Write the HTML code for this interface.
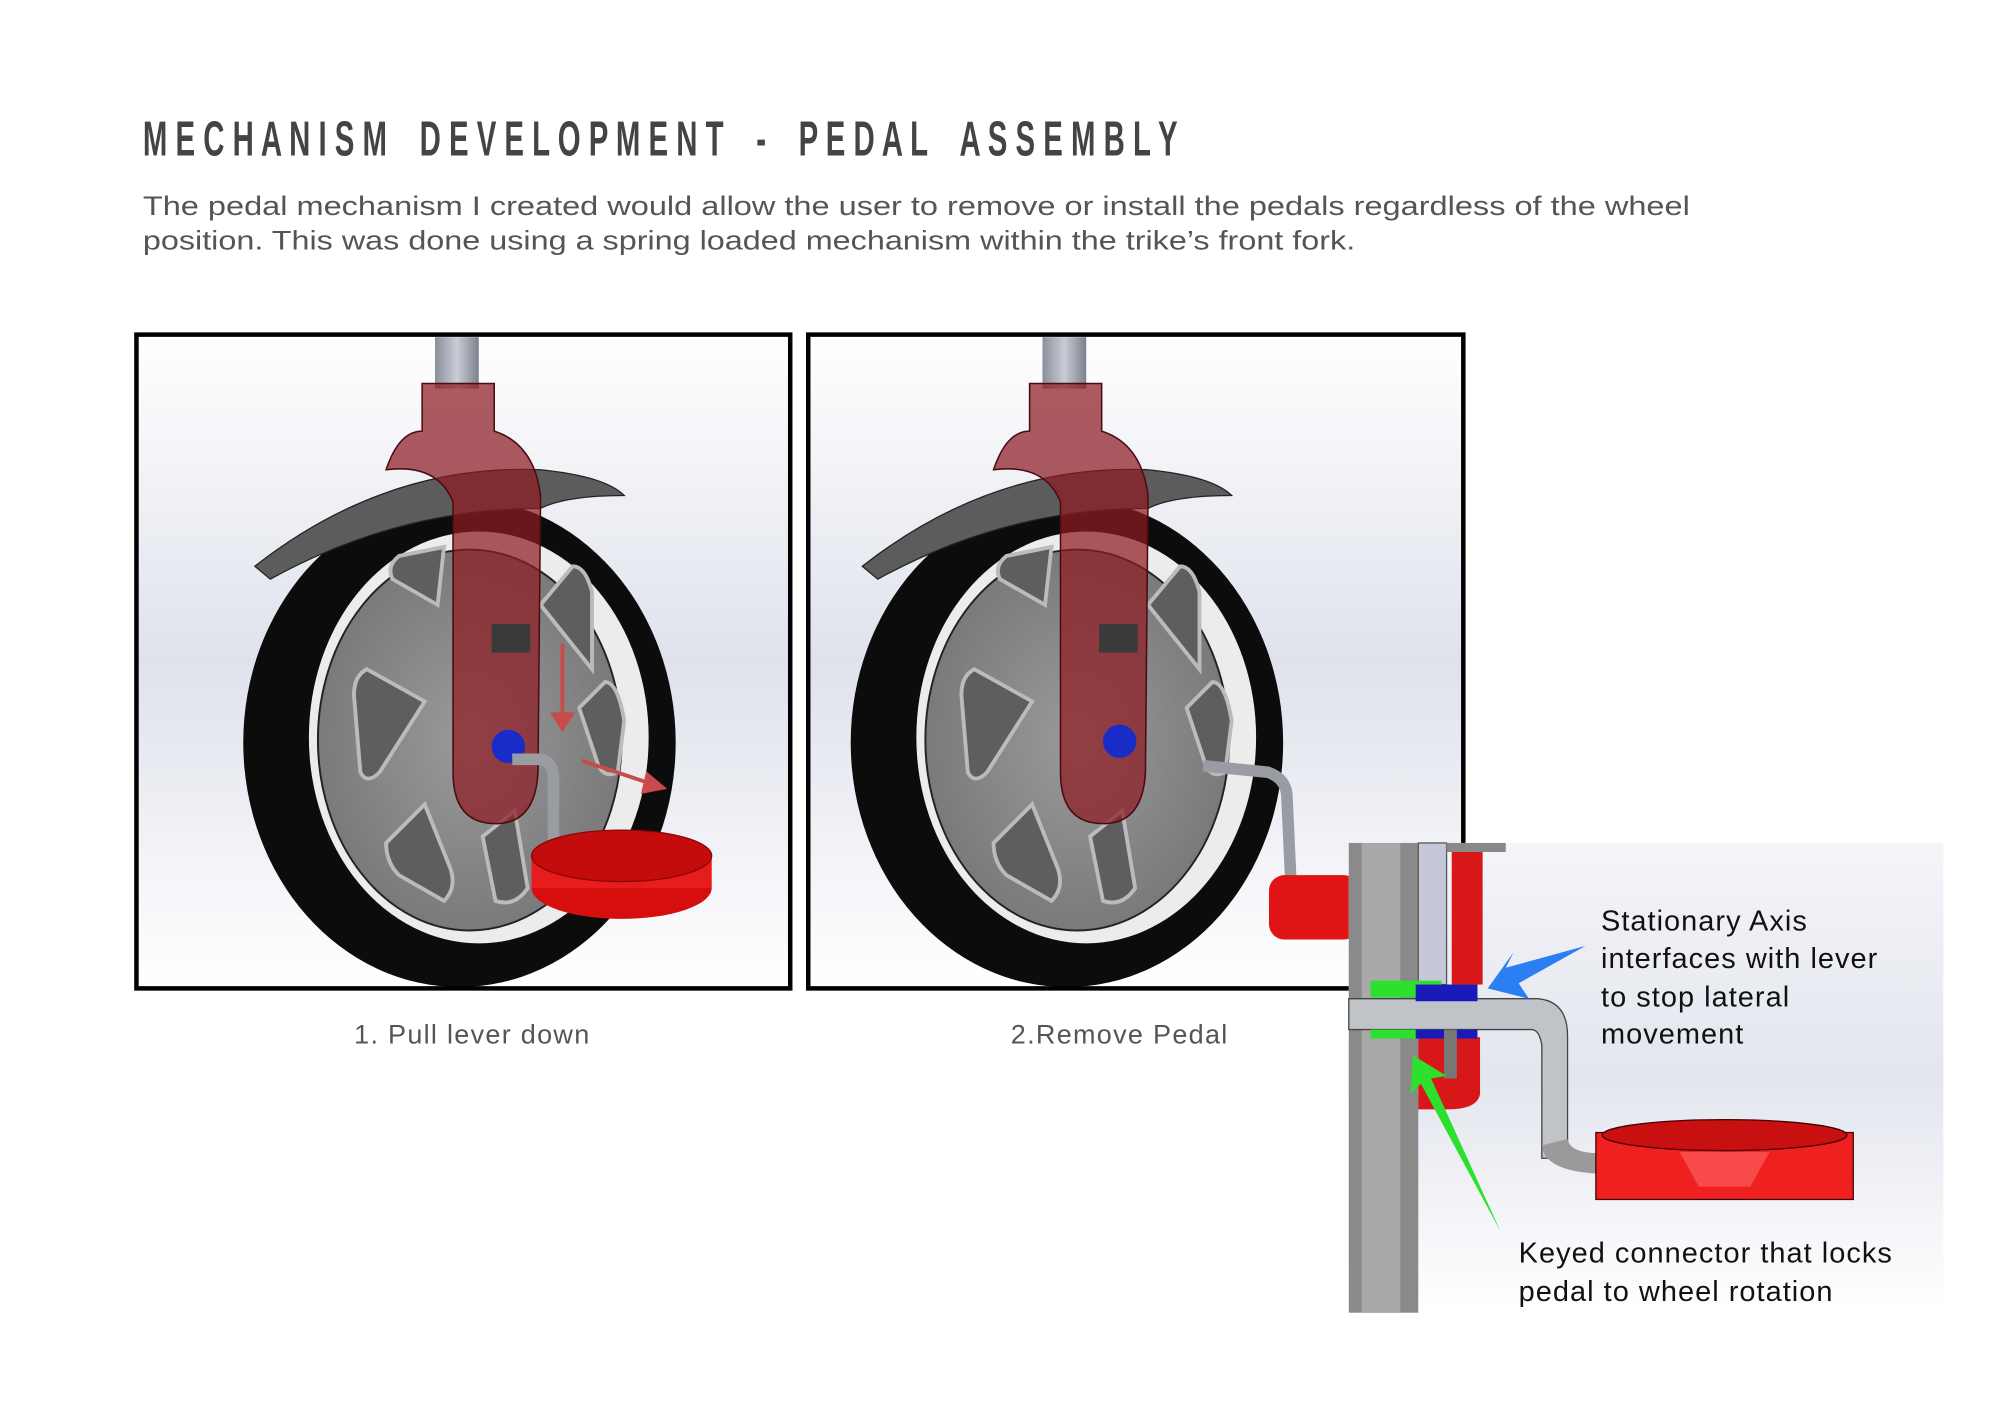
<!DOCTYPE html>
<html><head><meta charset="utf-8"><style>
html,body{margin:0;padding:0;background:#fff;}
svg{display:block;}
</style></head><body>
<svg width="2000" height="1414" viewBox="0 0 1554 1098.7" xmlns="http://www.w3.org/2000/svg">
<defs>
<linearGradient id="bg" x1="0" y1="0" x2="0" y2="1">
<stop offset="0" stop-color="#ffffff"/><stop offset="0.5" stop-color="#dfe2ec"/><stop offset="1" stop-color="#ffffff"/>
</linearGradient>
<linearGradient id="bg2" x1="0" y1="0" x2="0" y2="1">
<stop offset="0" stop-color="#f4f5f9"/><stop offset="0.5" stop-color="#e3e6ee"/><stop offset="1" stop-color="#ffffff"/>
</linearGradient>
<linearGradient id="tube" x1="0" y1="0" x2="1" y2="0">
<stop offset="0" stop-color="#8a8f9c"/><stop offset="0.5" stop-color="#c9ccd6"/><stop offset="1" stop-color="#7c808c"/>
</linearGradient>
<radialGradient id="hub" cx="0.5" cy="0.5" r="0.5">
<stop offset="0" stop-color="#9a9a9a"/><stop offset="1" stop-color="#7a7a7a"/>
</radialGradient>
<g id="wheel">
<ellipse cx="357" cy="577" rx="168" ry="190" fill="#0c0c0c"/>
<ellipse cx="372" cy="573" rx="132" ry="160" fill="#ececec"/>
<ellipse cx="365" cy="575" rx="118" ry="148" fill="url(#hub)" stroke="#222" stroke-width="1.5"/>
<g fill="#5e5e5e" stroke="#bbb" stroke-width="3">
<path d="M340 470 L305 450 Q300 440 310 432 L345 425 Z"/>
<path d="M420 470 L445 440 Q455 440 460 460 L460 520 Z"/>
<path d="M330 545 L285 520 Q275 525 275 540 L280 600 Q285 610 295 600 Z"/>
<path d="M450 550 L470 530 Q480 530 485 560 L480 600 Q470 605 465 595 Z"/>
<path d="M330 625 L300 655 Q300 670 310 680 L345 700 Q355 690 350 675 Z"/>
<path d="M400 630 L410 690 Q400 705 385 700 L375 650 Z"/>
</g>
<path d="M198 440 Q300 360 420 365 Q470 370 485 385 Q440 385 420 395 Q310 395 210 450 Z" fill="#5c5c5c" stroke="#222" stroke-width="1"/>
<rect x="338" y="262" width="34" height="40" fill="url(#tube)"/>
<path d="M328 298 L384 298 L384 335 Q415 345 420 385 L418 600 Q416 640 385 640 Q352 640 352 600 L352 390 Q340 360 300 365 Q310 335 328 335 Z" fill="#8e1c24" fill-opacity="0.72" stroke="#4a0c10" stroke-width="1.2"/>
<rect x="382" y="485" width="30" height="22" fill="#3a3a3a"/>
</g>
</defs>

<text x="111" y="121" font-family="Liberation Sans, sans-serif" font-weight="bold" font-size="38" fill="#444" textLength="804" lengthAdjust="spacingAndGlyphs">M E C H A N I S M&#160;&#160;&#160; D E V E L O P M E N T&#160;&#160;&#160; -&#160;&#160;&#160; P E D A L&#160;&#160;&#160; A S S E M B L Y</text>
<text x="111" y="167" font-family="Liberation Sans, sans-serif" font-size="21" fill="#555" textLength="1202" lengthAdjust="spacingAndGlyphs">The pedal mechanism I created would allow the user to remove or install the pedals regardless of the wheel</text>
<text x="111" y="194" font-family="Liberation Sans, sans-serif" font-size="21" fill="#555" textLength="942" lengthAdjust="spacingAndGlyphs">position. This was done using a spring loaded mechanism within the trike’s front fork.</text>

<!-- Panel 1 -->
<rect x="106" y="260" width="508" height="508" fill="url(#bg)"/>
<use href="#wheel"/>
<circle cx="395" cy="580" r="13" fill="#1a2cc8"/>
<path d="M398 590 L420 590 Q430 592 430 605 L430 668" fill="none" stroke="#9a9ca4" stroke-width="9"/>
<ellipse cx="483" cy="690" rx="70" ry="24" fill="#d60e0e"/>
<rect x="413" y="665" width="140" height="25" fill="#e81c1c"/>
<ellipse cx="483" cy="665" rx="70" ry="20" fill="#c40c0c" stroke="#8a0606"/>
<g stroke="#c84b4b" stroke-width="3" fill="#c84b4b">
<line x1="437" y1="500" x2="437" y2="556"/><path d="M430 555 L444 555 L437 566 Z"/>
<line x1="452" y1="591" x2="506" y2="609"/><path d="M503 602 L515 612 L500 615 Z"/>
</g>
<rect x="106" y="260" width="508" height="508" fill="none" stroke="#000" stroke-width="3.5"/>

<!-- Panel 2 -->
<rect x="628" y="260" width="509" height="508" fill="url(#bg)"/>
<g transform="translate(472,0)"><use href="#wheel"/></g>
<circle cx="870" cy="576" r="13" fill="#1a2cc8"/>
<path d="M935 595 L985 600 Q1000 605 1000 620 L1003 685" fill="none" stroke="#9a9ca4" stroke-width="9"/>
<rect x="986" y="680" width="70" height="50" rx="12" fill="#e01414"/>
<rect x="628" y="260" width="509" height="508" fill="none" stroke="#000" stroke-width="3.5"/>

<text x="367" y="811" text-anchor="middle" font-family="Liberation Sans, sans-serif" font-size="21" fill="#555" letter-spacing="1">1. Pull lever down</text>
<text x="870" y="811" text-anchor="middle" font-family="Liberation Sans, sans-serif" font-size="21" fill="#555" letter-spacing="1">2.Remove Pedal</text>

<!-- Inset -->
<rect x="1048" y="655" width="462" height="365" fill="url(#bg2)"/>
<rect x="1048" y="655" width="54" height="365" fill="#8a8a8a"/>
<rect x="1058" y="655" width="30" height="365" fill="#a9a9a9"/>
<rect x="1102" y="655" width="22" height="110" fill="#c5c8d8" stroke="#555" stroke-width="1"/>
<rect x="1128" y="660" width="24" height="105" fill="#d81818"/>
<rect x="1124" y="655" width="46" height="7" fill="#888"/>
<path d="M1102 806 L1150 806 L1150 850 Q1148 862 1125 862 L1102 862 Z" fill="#d81818"/>
<path d="M1048 776 L1195 776 Q1218 778 1218 805 L1218 900 L1198 900 L1198 812 Q1196 800 1190 800 L1048 800 Z" fill="#c0c3c8" stroke="#444" stroke-width="1"/>
<path d="M1198 890 Q1200 910 1242 912 L1242 896 Q1220 896 1218 885 Z" fill="#9a9a9a"/>
<rect x="1240" y="880" width="200" height="52" fill="#ee2020" stroke="#400" stroke-width="1"/>
<ellipse cx="1340" cy="882" rx="95" ry="12" fill="#c81010" stroke="#400"/>
<path d="M1305 895 L1375 895 L1360 922 L1320 922 Z" fill="#f84a4a"/>
<rect x="1065" y="762" width="55" height="13" fill="#2ee02e"/>
<rect x="1100" y="765" width="48" height="13" fill="#1a1ab8"/>
<rect x="1065" y="800" width="38" height="7" fill="#2ee02e"/>
<rect x="1100" y="800" width="48" height="7" fill="#1a1ab8"/>
<rect x="1122" y="800" width="10" height="38" fill="#777"/>
<path d="M1232 735 L1170 752 L1176 740 L1156 768 L1188 776 L1180 764 Z" fill="#2a7ff2"/>
<path d="M1166 957 L1112 838 L1124 836 L1098 820 L1096 850 L1104 842 Z" fill="#2ee02e"/>

<g font-family="Liberation Sans, sans-serif" font-size="22.5" fill="#111" letter-spacing="0.8">
<text x="1244" y="723">Stationary Axis</text>
<text x="1244" y="752">interfaces with lever</text>
<text x="1244" y="782">to stop lateral</text>
<text x="1244" y="811">movement</text>
<text x="1180" y="981">Keyed connector that locks</text>
<text x="1180" y="1011">pedal to wheel rotation</text>
</g>
</svg>
</body></html>
